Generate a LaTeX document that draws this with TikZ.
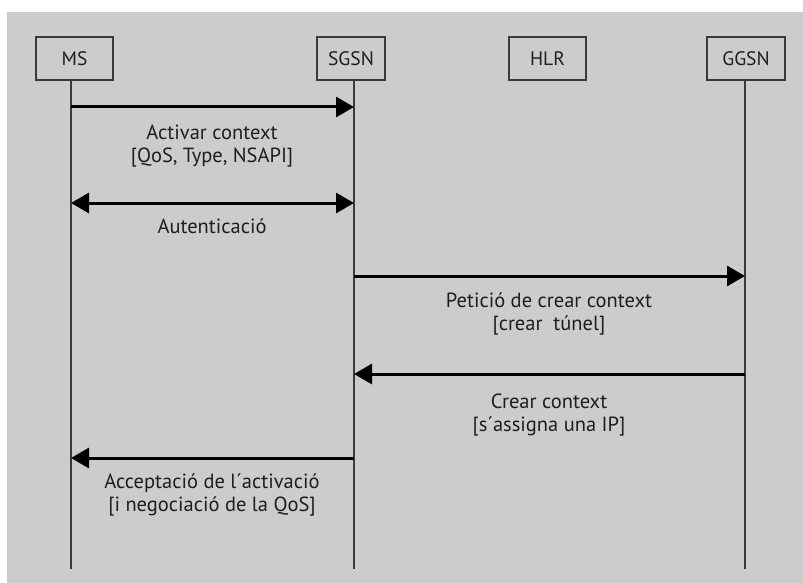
\documentclass[tikz,border=0pt]{standalone}
\usepackage{fontspec}
\setmainfont{PT Sans}
\usetikzlibrary{arrows.meta}
\definecolor{bg}{HTML}{CCCCCC}
\definecolor{ln}{HTML}{3A3A3A}
\definecolor{tx}{HTML}{1E1E1E}
\tikzset{
  entity/.style={draw=ln, line width=1.4pt, fill=bg, minimum height=43pt, inner sep=0pt,
    font=\fontsize{19.5}{23}\selectfont, text=tx},
  lifeline/.style={draw=ln, line width=1.4pt},
  msg/.style={draw=black, line width=3pt, -{Triangle[length=18pt,width=20pt]}},
  dmsg/.style={draw=black, line width=3pt, {Triangle[length=18pt,width=20pt]}-{Triangle[length=18pt,width=20pt]}},
  lbl/.style={anchor=base, align=center, inner sep=0pt, text=tx,
    font=\fontsize{20.5}{23}\selectfont}
}
\begin{document}
\begin{tikzpicture}[x=1pt,y=-1pt]
\useasboundingbox (0,0) rectangle (803,583);
\fill[bg] (7,12) rectangle (803,583);
% entities
\node[entity, minimum width=77pt] (ms) at (74.5,58.5) {MS};
\node[entity, minimum width=68pt] (sgsn) at (351,58.5) {SGSN};
\node[entity, minimum width=77pt] (hlr) at (547.5,58.5) {HLR};
\node[entity, minimum width=78pt] (ggsn) at (746,58.5) {GGSN};
% lifelines
\coordinate (mstop) at (71,80);
\coordinate (msbot) at (71,569);
\coordinate (sgtop) at (354,80);
\coordinate (sgbot) at (354,569);
\coordinate (ggtop) at (745,80);
\coordinate (ggbot) at (745,569);
\draw[lifeline] (mstop) -- (msbot);
\draw[lifeline] (sgtop) -- (sgbot);
\draw[lifeline] (ggtop) -- (ggbot);
% messages
\draw[msg] (mstop |- 0,107) -- (sgtop |- 0,107);
\node[lbl] (l1) at (212,162) {Activar context\\{}[QoS, Type, NSAPI]};
\draw[dmsg] (mstop |- 0,203) -- (sgtop |- 0,203);
\node[lbl] (l2) at (212,233) {Autenticació};
\draw[msg] (sgtop |- 0,276) -- (ggtop |- 0,276);
\node[lbl] (l3) at (549,330) {Petició de crear context\\{}[crear\ \ túnel]};
\draw[msg] (ggtop |- 0,374) -- (sgtop |- 0,374);
\node[lbl] (l4) at (549,431) {Crear context\\{}[s´assigna una IP]};
\draw[msg] (sgtop |- 0,458) -- (mstop |- 0,458);
\node[lbl] (l5) at (212,511) {Acceptació de l´activació\\{}[i negociació de la QoS]};
\end{tikzpicture}
\end{document}
